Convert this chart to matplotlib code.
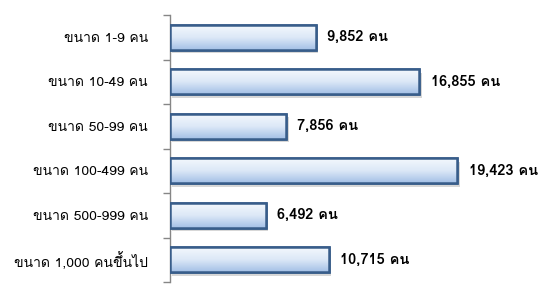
import numpy as np
import matplotlib.pyplot as plt
from matplotlib import font_manager
from matplotlib.ft2font import FT2Font
from matplotlib.colors import LinearSegmentedColormap

categories = ['ขนาด 1-9 คน', 'ขนาด 10-49 คน', 'ขนาด 50-99 คน',
              'ขนาด 100-499 คน', 'ขนาด 500-999 คน', 'ขนาด 1,000 คนขึ้นไป']
values = [9852, 16855, 7856, 19423, 6492, 10715]
value_labels = ['9,852 คน', '16,855 คน', '7,856 คน',
                '19,423 คน', '6,492 คน', '10,715 คน']

# find any installed font that has Thai glyphs
thai_font = None
for f in font_manager.fontManager.ttflist:
    try:
        cmap = FT2Font(f.fname).get_charmap()
    except Exception:
        continue
    if 0x0E02 in cmap and 0x0E19 in cmap:
        thai_font = f.name
        break
families = ([thai_font] if thai_font else []) + ['DejaVu Sans']
plt.rcParams['font.family'] = families

fig = plt.figure(figsize=(5.4, 2.89), dpi=100)
ax = fig.add_axes([0.315, 0.024, 0.685, 0.924])

y = np.arange(len(categories))
bars = ax.barh(y, values, height=0.56, color='#c6d9f1', edgecolor='#385d8a',
               linewidth=1.8, zorder=3)

# gradient fill + soft shadow
grad = np.linspace(0, 1, 64).reshape(-1, 1)
cmap = LinearSegmentedColormap.from_list('bb', ['#f4f8fd', '#dce8f7', '#a4c0e6'])
for b in bars:
    x0, y0, w, h = b.get_x(), b.get_y(), b.get_width(), b.get_height()
    sh = plt.Rectangle((x0 + 150, y0 + 0.08), w, h, color='#b0b0b0', alpha=0.5,
                       zorder=2, lw=0)
    ax.add_patch(sh)
    im = ax.imshow(grad, extent=(x0, x0 + w, y0 + h, y0), aspect='auto',
                   cmap=cmap, zorder=3.5, origin='upper')
    im.set_clip_path(b)
    edge = plt.Rectangle((x0, y0), w, h, fill=False, edgecolor='#385d8a',
                         linewidth=1.8, zorder=4)
    ax.add_patch(edge)

for yi, v, lab in zip(y, values, value_labels):
    ax.annotate(lab, (v, yi), xytext=(8, 0), textcoords='offset points',
                va='center', ha='left', fontsize=10.5, fontweight='bold', color='black')

ax.set_xlim(0, 25000)
ax.set_ylim(len(categories) - 0.5, -0.5)
ax.set_yticks(y)
ax.set_yticklabels(categories, fontsize=10)
ax.tick_params(axis='y', which='major', length=0, pad=16)
ax.set_yticks(np.arange(-0.5, len(categories)), minor=True)
ax.tick_params(axis='y', which='minor', length=5, color='#868686', width=1)
ax.set_xticks([])
for s in ['top', 'right', 'bottom']:
    ax.spines[s].set_visible(False)
ax.spines['left'].set_color('#868686')
ax.spines['left'].set_linewidth(1)

fig.savefig('out.png', dpi=100)
